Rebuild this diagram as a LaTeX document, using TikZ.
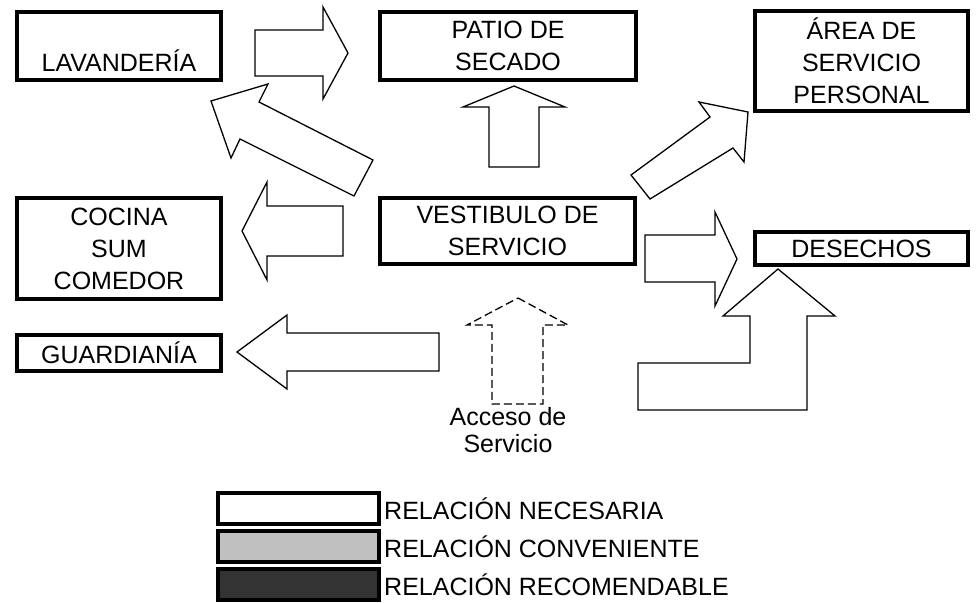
\documentclass[tikz,border=0pt]{standalone}
\usepackage{fontspec}
\setmainfont{Liberation Sans}
\usetikzlibrary{positioning}

\definecolor{convgray}{HTML}{C0C0C0}
\definecolor{recgray}{HTML}{333333}

\begin{document}
\begin{tikzpicture}[
  x=1pt, y=-1pt,
  font=\fontsize{25}{32}\selectfont,
  room/.style={draw, line width=4pt, inner sep=0pt, outer sep=0pt, align=center},
  blk/.style={draw, fill=white, line width=1.3pt, line join=miter},
  key/.style={draw, line width=4pt, inner sep=0pt, outer sep=0pt, minimum width=161pt, minimum height=31pt},
  keytext/.style={inner sep=0pt}
]
  \useasboundingbox (0,0) rectangle (976,602);

  % recintos
  \node[room, minimum width=204pt, minimum height=68pt] (lav) at (119,46) {\mbox{}\\[19pt]LAVANDERÍA};
  \node[room, minimum width=256pt, minimum height=68pt] (patio) at (508,46) {PATIO DE\\SECADO};
  \node[room, minimum width=213pt, minimum height=100pt] (area) at (861.5,61) {ÁREA DE\\SERVICIO\\PERSONAL};
  \node[room, minimum width=204pt, minimum height=101pt] (cocina) at (119,248.5) {COCINA\\SUM\\COMEDOR};
  \node[room, minimum width=255pt, minimum height=66pt] (vest) at (507.5,231) {VESTIBULO DE\\SERVICIO};
  \node[room, minimum width=213pt, minimum height=33pt] (desechos) at (861.5,248.5) {DESECHOS};
  \node[room, minimum width=204pt, minimum height=36pt] (guard) at (119,353) {GUARDIANÍA};

  % flechas de relacion
  \draw[blk] (255,30) -- (323,30) -- (323,7) -- (348,53) -- (323,99) -- (323,76) -- (255,76) -- cycle;
  \draw[blk] (211,101) -- (268,84) -- (259,102) -- (373,160) -- (354,196) -- (240,139) -- (231,158) -- cycle;
  \draw[blk] (514,86) -- (565,107) -- (539,107) -- (539,167) -- (489,167) -- (489,107) -- (463,107) -- cycle;
  \draw[blk] (748,112) -- (744,162) -- (733,148) -- (650,199) -- (631,175) -- (710,117) -- (699,102) -- cycle;
  \draw[blk] (242,231) -- (267,182) -- (267,206) -- (343,206) -- (343,256) -- (267,256) -- (267,280) -- cycle;
  \draw[blk] (237,352) -- (287,315) -- (287,333) -- (439,333) -- (439,371) -- (287,371) -- (287,389) -- cycle;
  \draw[blk] (737,259) -- (715,306) -- (715,282) -- (645,282) -- (645,235) -- (715,235) -- (715,212) -- cycle;
  \draw[blk] (778,269) -- (835,316) -- (807,316) -- (807,410) -- (638,410) -- (638,363) -- (750,363) -- (750,316) -- (723,316) -- cycle;

  % acceso
  \draw[blk, dash pattern=on 8pt off 4pt] (518,298) -- (568,325) -- (543,325) -- (543,404) -- (492,404) -- (492,325) -- (467,325) -- cycle;
  \node[align=center, font=\fontsize{25}{27}\selectfont] (acceso) at (508,430) {Acceso de\\Servicio};

  % leyenda
  \node[key, fill=white, anchor=north west] (necesaria) at (218,493) {};
  \node[key, fill=convgray, below=7pt of necesaria] (conveniente) {};
  \node[key, fill=recgray, below=7pt of conveniente] (recomendable) {};
  \node[keytext, right=5pt of necesaria] (tnec) {RELACIÓN NECESARIA};
  \node[keytext, right=5pt of conveniente] (tconv) {RELACIÓN CONVENIENTE};
  \node[keytext, right=5pt of recomendable] (trec) {RELACIÓN RECOMENDABLE};
\end{tikzpicture}
\end{document}
